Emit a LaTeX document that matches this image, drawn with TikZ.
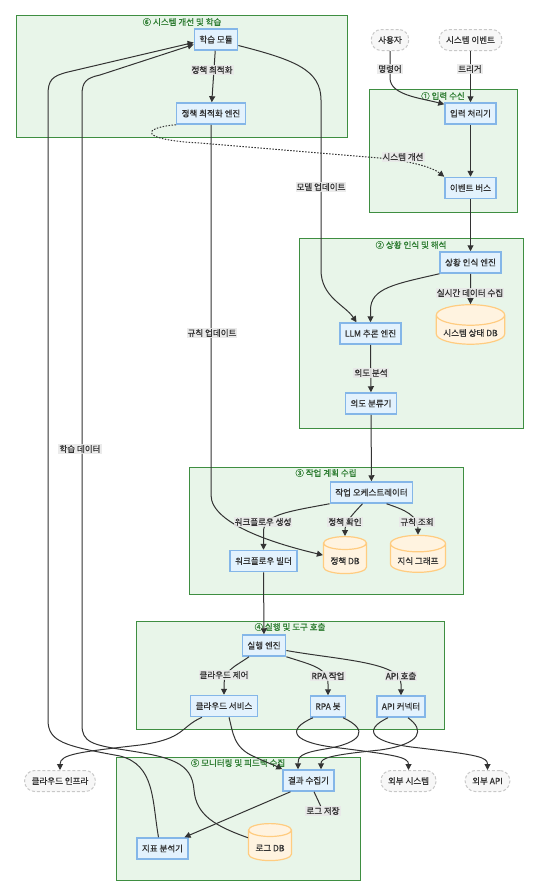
\documentclass[tikz,border=0pt]{standalone}
\usepackage{fontspec}
\setmainfont{Noto Sans CJK KR}[FakeBold=0.8]
\usetikzlibrary{arrows.meta,shapes.geometric}

\definecolor{grpfill}{HTML}{E8F5E9}
\definecolor{grpline}{HTML}{3E8E41}
\definecolor{grptext}{HTML}{2E7D32}
\definecolor{procfill}{HTML}{E3F2FD}
\definecolor{procline}{HTML}{84B6E8}
\definecolor{dbfill}{HTML}{FFF3E0}
\definecolor{dbline}{HTML}{FFCC80}
\definecolor{extfill}{HTML}{F7F7F7}
\definecolor{extline}{HTML}{C8C8C8}
\definecolor{edgeline}{HTML}{333333}
\definecolor{lblfill}{HTML}{E8E8E8}

\begin{document}
\begin{tikzpicture}[x=1pt,y=-1pt,>={Triangle[length=6pt,width=6pt]},
	font=\fontsize{8.5}{10}\selectfont,
	group/.style={fill=grpfill,draw=grpline,line width=1pt},
	grouptitle/.style={text=grptext,inner sep=0pt},
	proc/.style={rectangle,fill=procfill,draw=procline,line width=1.5pt,minimum height=21pt,inner xsep=5pt,text=edgeline},
	db/.style={cylinder,shape border rotate=90,aspect=0.3,fill=dbfill,draw=dbline,line width=1.2pt,minimum height=37pt,inner xsep=7pt,text=edgeline},
	ext/.style={rounded corners=10pt,fill=extfill,draw=extline,dash pattern=on 3pt off 2pt,line width=1pt,minimum height=21pt,inner xsep=7pt,text=edgeline},
	flow/.style={->,draw=edgeline,line width=1pt},
	hint/.style={flow,dash pattern=on 1.5pt off 1.5pt},
	elabel/.style={fill=lblfill,fill opacity=0.85,text opacity=1,inner sep=1pt,text=edgeline}]
		\useasboundingbox (0,0) rectangle (542,894);
		
		% Draw the groups
		\draw[group] (16,15) rectangle (347,137);
		\node[grouptitle] (title6) at (182,22) {⑥ 시스템 개선 및 학습};
		\draw[group] (369,89) rectangle (517,212);
		\node[grouptitle] (title1) at (443,96) {① 입력 수신};
		\draw[group] (299,238) rectangle (523,428);
		\node[grouptitle] (title2) at (411,245) {② 상황 인식 및 해석};
		\draw[group] (189,467) rectangle (463,594);
		\node[grouptitle] (title3) at (326,473) {③ 작업 계획 수립};
		\draw[group] (136,621) rectangle (444,729);
		\node[grouptitle] (title4) at (290,627) {④ 실행 및 도구 호출};
		\draw[group] (116,757) rectangle (360,880);
		\node[grouptitle] (title5) at (238,763) {⑤ 모니터링 및 피드백 수집};
		
		% Draw the components
		\node[proc] (learn) at (216,39.5) {학습 모듈};
		\node[proc] (polopt) at (211,113.5) {정책 최적화 엔진};
		\node[ext] (user) at (390,40) {사용자};
		\node[ext] (sysev) at (470.5,40) {시스템 이벤트};
		\node[proc] (inproc) at (470.5,113.5) {입력 처리기};
		\node[proc] (evbus) at (470.5,188) {이벤트 버스};
		\node[proc] (sitaware) at (470.5,262.5) {상황 인식 엔진};
		\node[db] (statedb) at (470.5,333) {시스템 상태 DB};
		\node[proc] (llm) at (370.5,333.5) {LLM 추론 엔진};
		\node[proc] (intent) at (371,403.5) {의도 분류기};
		\node[proc] (orch) at (371.5,492.5) {작업 오케스트레이터};
		\node[proc] (wfb) at (263.5,561) {워크플로우 빌더};
		\node[db] (poldb) at (345,561) {정책 DB};
		\node[db] (kg) at (418,561) {지식 그래프};
		\node[proc] (exec) at (264,645.5) {실행 엔진};
		\node[proc] (cloud) at (224,706) {클라우드 서비스};
		\node[proc] (rpa) at (328,706.5) {RPA 봇};
		\node[proc] (api) at (401,706.5) {API 커넥터};
		\node[ext] (cinfra) at (60,781) {클라우드 인프라};
		\node[ext] (extsys) at (408.5,781) {외부 시스템};
		\node[ext] (extapi) at (487.5,781) {외부 API};
		\node[proc] (collect) at (308.5,780.5) {결과 수집기};
		\node[proc] (metric) at (162.5,848.5) {지표 분석기};
		\node[db] (logdb) at (270,848) {로그 DB};
		
		% Draw the input flow
		\draw[flow] (user.south) -- (390,78) .. controls (390,95) and (420,98) .. ([yshift=-2pt]inproc.north west);
		\draw[flow] (sysev) -- (inproc);
		\draw[flow] (inproc) -- (evbus);
		\draw[hint] (polopt.south west) .. controls (140,128) and (140,140) .. (200,143) -- (380,158) .. controls (410,161) and (432,167) .. (evbus.north west);
		
		% Draw the situation flow
		\draw[flow] (evbus) -- (sitaware);
		\draw[flow] (sitaware.south west) .. controls (395,284) and (370.5,288) .. (370.5,310) -- (llm.north);
		\draw[flow] (sitaware) -- (statedb);
		\draw[flow] ([yshift=-6pt]learn.east) .. controls (295,60) and (321,70) .. (321,100) -- (321,270) .. controls (321,297) and (345,305) .. ([xshift=-14pt]llm.north);
		\draw[flow] (learn) -- (polopt);
		\draw[flow] (polopt.south) -- (211,495) .. controls (211,525) and (280,545) .. (poldb.165);
		
		% Draw the planning flow
		\draw[flow] (llm) -- (intent);
		\draw[flow] (intent) -- (orch);
		\draw[flow] (orch.south west) .. controls (285,512) and (263.5,515) .. (263.5,532) -- (wfb.north);
		\draw[flow] ([xshift=-9pt]orch.south) .. controls (352,515) and (345,522) .. (poldb.90);
		\draw[flow] ([xshift=15pt]orch.south) .. controls (405,510) and (418,515) .. (418,530) -- (kg.90);
		
		% Draw the execution flow
		\draw[flow] (wfb) -- (exec);
		\draw[flow] ([xshift=-15pt]exec.south) .. controls (236,666) and (224,670) .. (224,684) -- (cloud.north);
		\draw[flow] (exec.south east) .. controls (312,665) and (328,668) .. (328,684) -- (rpa.north);
		\draw[flow] ([yshift=-5pt]exec.east) .. controls (340,660) and (401,662) .. (401,684) -- (api.north);
		\draw[flow] ([xshift=-22pt]cloud.south) .. controls (180,727) and (185,739) .. (140,745) .. controls (80,752) and (60,754) .. (cinfra.north);
		\draw[flow] ([xshift=5pt]cloud.south) .. controls (233,732) and (233,748) .. (255,757) .. controls (268,763) and (276,766) .. (collect.north west);
		\draw[flow] ([xshift=-15pt]rpa.south) .. controls (285,730) and (292,743) .. (340,748) .. controls (395,755) and (408.5,757) .. (extsys.north);
		\draw[flow] ([xshift=15pt]rpa.south) .. controls (370,730) and (362,743) .. (325,749) .. controls (300,753) and (298,757) .. ([xshift=-10.5pt]collect.north);
		\draw[flow] ([xshift=-13pt]api.south) .. controls (362,730) and (370,743) .. (420,748) .. controls (478,755) and (487.5,757) .. (extapi.north);
		\draw[flow] ([xshift=7pt]api.south) .. controls (425,730) and (422,744) .. (380,750) .. controls (330,755) and (321,758) .. ([xshift=12.5pt]collect.north);
		
		% Draw the feedback flow
		\draw[flow] ([xshift=-18pt]collect.south) -- ([xshift=22pt]metric.north);
		\draw[flow] ([xshift=-4pt]metric.north) .. controls (152,800) and (155,765) .. (120,756) .. controls (65,746) and (48,742) .. (48,720) -- (48,95) .. controls (48,80) and (52,76) .. (68,72) -- ([yshift=-3pt]learn.west);
		\draw[flow] (logdb.155) .. controls (215,826) and (196,815) .. (194,790) .. controls (192,762) and (170,757) .. (125,750) .. controls (92,745) and (82,742) .. (82,725) -- (82,95) .. controls (82,82) and (86,78) .. (100,75) -- ([yshift=-5pt]learn.west);
		
		% Draw the edge labels
		\node[elabel] (lblcmd) at (390,69) {명령어};
		\node[elabel] (lbltrig) at (470,69) {트리거};
		\node[elabel] (lblimprove) at (403,157) {시스템 개선};
		\node[elabel] (lblcollect) at (470,293) {실시간 데이터 수집};
		\node[elabel] (lblmodel) at (321,187) {모델 업데이트};
		\node[elabel] (lblpolicy) at (212,70) {정책 최적화};
		\node[elabel] (lblrule) at (212,333) {규칙 업데이트};
		\node[elabel] (lblintent) at (371,373) {의도 분석};
		\node[elabel] (lblwf) at (263,522) {워크플로우 생성};
		\node[elabel] (lblcheck) at (345,522) {정책 확인};
		\node[elabel] (lblquery) at (417,522) {규칙 조회};
		\node[elabel] (lblcloud) at (224,675) {클라우드 제어};
		\node[elabel] (lblrpa) at (328,676) {RPA 작업};
		\node[elabel] (lblapi) at (401,676) {API 호출};
		\node[elabel] (lbltrain) at (80,449) {학습 데이터};
		\node[elabel] (lbllog) at (323,811) {로그 저장};
		\draw[draw=edgeline,line width=1pt] ([xshift=5.5pt]collect.south) -- (lbllog);
		
		\end{tikzpicture}
\end{document}
